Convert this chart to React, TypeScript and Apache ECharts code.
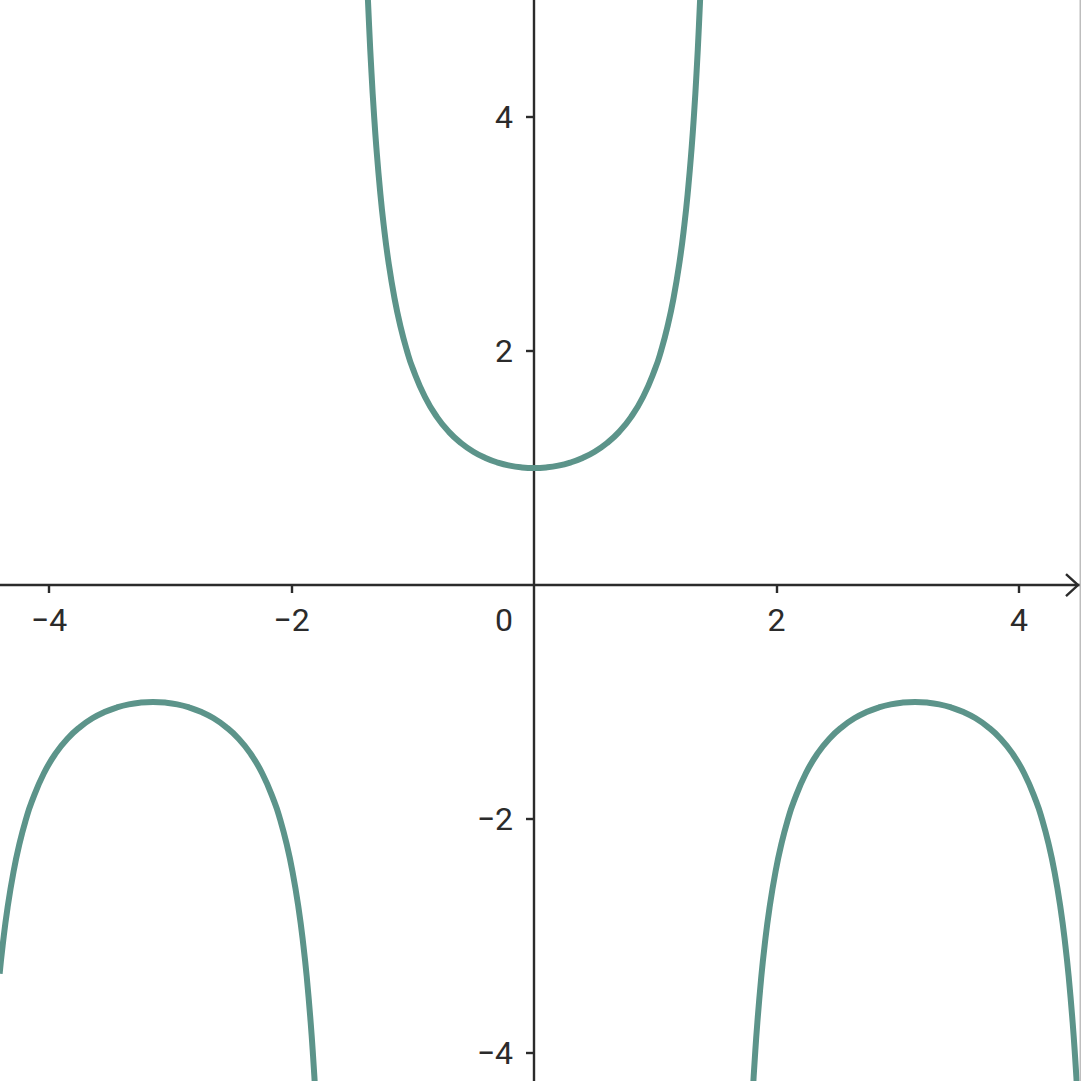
import React, { useEffect, useRef } from "react";
import * as echarts from "echarts";

// y = sec(x), three branches
const centerX = [-1.40, -1.38, -1.36, -1.34, -1.32, -1.30, -1.27, -1.24, -1.20, -1.15, -1.10, -1.05, -1.0, -0.9, -0.8, -0.7, -0.6, -0.5, -0.4, -0.3, -0.2, -0.1, 0, 0.1, 0.2, 0.3, 0.4, 0.5, 0.6, 0.7, 0.8, 0.9, 1.0, 1.05, 1.10, 1.15, 1.20, 1.24, 1.27, 1.30, 1.32, 1.34, 1.36, 1.38, 1.40];
const centerY = [5.883, 5.273, 4.779, 4.372, 4.029, 3.738, 3.375, 3.079, 2.760, 2.448, 2.205, 2.010, 1.851, 1.609, 1.435, 1.307, 1.212, 1.139, 1.086, 1.047, 1.020, 1.005, 1.0, 1.005, 1.020, 1.047, 1.086, 1.139, 1.212, 1.307, 1.435, 1.609, 1.851, 2.010, 2.205, 2.448, 2.760, 3.079, 3.375, 3.738, 4.029, 4.372, 4.779, 5.273, 5.883];

const leftX = [-4.407, -4.382, -4.342, -4.292, -4.242, -4.192, -4.142, -4.042, -3.942, -3.842, -3.742, -3.642, -3.542, -3.442, -3.342, -3.242, -3.142, -3.042, -2.942, -2.842, -2.742, -2.642, -2.542, -2.442, -2.342, -2.242, -2.142, -2.092, -2.042, -1.992, -1.942, -1.902, -1.872, -1.842, -1.822, -1.802, -1.782];
const leftY = [-3.322, -3.079, -2.760, -2.448, -2.205, -2.010, -1.851, -1.609, -1.435, -1.307, -1.212, -1.139, -1.086, -1.047, -1.020, -1.005, -1.0, -1.005, -1.020, -1.047, -1.086, -1.139, -1.212, -1.307, -1.435, -1.609, -1.851, -2.010, -2.205, -2.448, -2.760, -3.079, -3.375, -3.738, -4.029, -4.372, -4.779];

const rightX = [1.782, 1.802, 1.822, 1.842, 1.872, 1.902, 1.942, 1.992, 2.042, 2.092, 2.142, 2.242, 2.342, 2.442, 2.542, 2.642, 2.742, 2.842, 2.942, 3.042, 3.142, 3.242, 3.342, 3.442, 3.542, 3.642, 3.742, 3.842, 3.942, 4.042, 4.142, 4.192, 4.242, 4.292, 4.342, 4.382, 4.412, 4.442, 4.462, 4.482, 4.502];
const rightY = [-4.779, -4.372, -4.029, -3.738, -3.375, -3.079, -2.760, -2.448, -2.205, -2.010, -1.851, -1.609, -1.435, -1.307, -1.212, -1.139, -1.086, -1.047, -1.020, -1.005, -1.0, -1.005, -1.020, -1.047, -1.086, -1.139, -1.212, -1.307, -1.435, -1.609, -1.851, -2.010, -2.205, -2.448, -2.760, -3.079, -3.375, -3.738, -4.029, -4.372, -4.779];

const xTicks = [-4, -2, 2, 4];
const yTicks = [-4, -2, 2, 4];
const originLabel = "0";

const X_MIN = -4.404;
const X_MAX = 4.511;
const Y_MIN = -4.239;
const Y_MAX = 5.0;

const SIZE = 1081;
const CURVE = "#5c948a";
const AXIS = "#2b2b2b";
const FONT = "Roboto";
const FS = 32;
const X_LABEL_MARGIN = 19;

const fmt = (v: number) => (v < 0 ? "\u2212" + Math.abs(v) : String(v));
const zip = (xs: number[], ys: number[]) => xs.map((x, i) => [x, ys[i]]);

export default function App() {
  const ref = useRef<HTMLDivElement>(null);
  useEffect(() => {
    const chart = echarts.init(ref.current!, null, { renderer: "svg" });
    // where the zero lines fall inside the full-size grid
    const zeroX = ((0 - X_MIN) / (X_MAX - X_MIN)) * SIZE;
    const zeroY = ((Y_MAX - 0) / (Y_MAX - Y_MIN)) * SIZE;
    const lineSeries = (data: number[][]) => ({
      type: "line",
      data,
      smooth: true,
      showSymbol: false,
      clip: true,
      lineStyle: { color: CURVE, width: 6 },
      itemStyle: { color: CURVE },
      z: 3,
    });
    chart.setOption({
      animation: false,
      grid: { left: 0, right: 0, top: 0, bottom: 0, containLabel: false, outerBoundsMode: "none" },
      xAxis: {
        type: "value",
        min: X_MIN,
        max: X_MAX,
        position: "bottom",
        offset: -(SIZE - zeroY),
        axisLine: { onZero: false, lineStyle: { color: AXIS, width: 2.4 } },
        axisTick: { show: true, length: 8, customValues: xTicks, lineStyle: { color: AXIS, width: 2.4 } },
        axisLabel: { customValues: xTicks, formatter: fmt, color: AXIS, fontFamily: FONT, fontSize: FS, margin: X_LABEL_MARGIN, hideOverlap: false },
        splitLine: { show: false },
        z: 2,
      },
      yAxis: {
        type: "value",
        min: Y_MIN,
        max: Y_MAX,
        position: "left",
        offset: -zeroX,
        axisLine: { onZero: false, lineStyle: { color: AXIS, width: 2.4 } },
        axisTick: { show: true, length: 8, customValues: yTicks, lineStyle: { color: AXIS, width: 2.4 } },
        axisLabel: { customValues: yTicks, formatter: fmt, color: AXIS, fontFamily: FONT, fontSize: FS, margin: 21, hideOverlap: false },
        splitLine: { show: false },
        z: 2,
      },
      series: [lineSeries(zip(centerX, centerY)), lineSeries(zip(leftX, leftY)), lineSeries(zip(rightX, rightY))],
    });
    const o = chart.convertToPixel({ gridIndex: 0 }, [0, 0]) as number[];
    const W = chart.getWidth();
    const tipX = W - 3;
    chart.setOption({
      graphic: [
        {
          type: "polyline",
          shape: { points: [[tipX - 12, o[1] - 11], [tipX, o[1]], [tipX - 12, o[1] + 11]] },
          style: { stroke: AXIS, lineWidth: 2.4, fill: null },
          z: 10,
        },
        {
          type: "text",
          x: o[0] - 21,
          y: o[1] + X_LABEL_MARGIN,
          style: { text: originLabel, fill: AXIS, font: `${FS}px ${FONT}`, align: "right", verticalAlign: "top" },
          z: 10,
        },
        {
          type: "rect",
          shape: { x: W - 1.5, y: 0, width: 1.5, height: chart.getHeight() },
          style: { fill: "#bdbdbd" },
          z: 10,
        },
      ],
    });
    return () => chart.dispose();
  }, []);
  return <div ref={ref} style={{ position: "fixed", left: 0, top: 0, width: SIZE, height: SIZE, background: "#fff" }} />;
}
